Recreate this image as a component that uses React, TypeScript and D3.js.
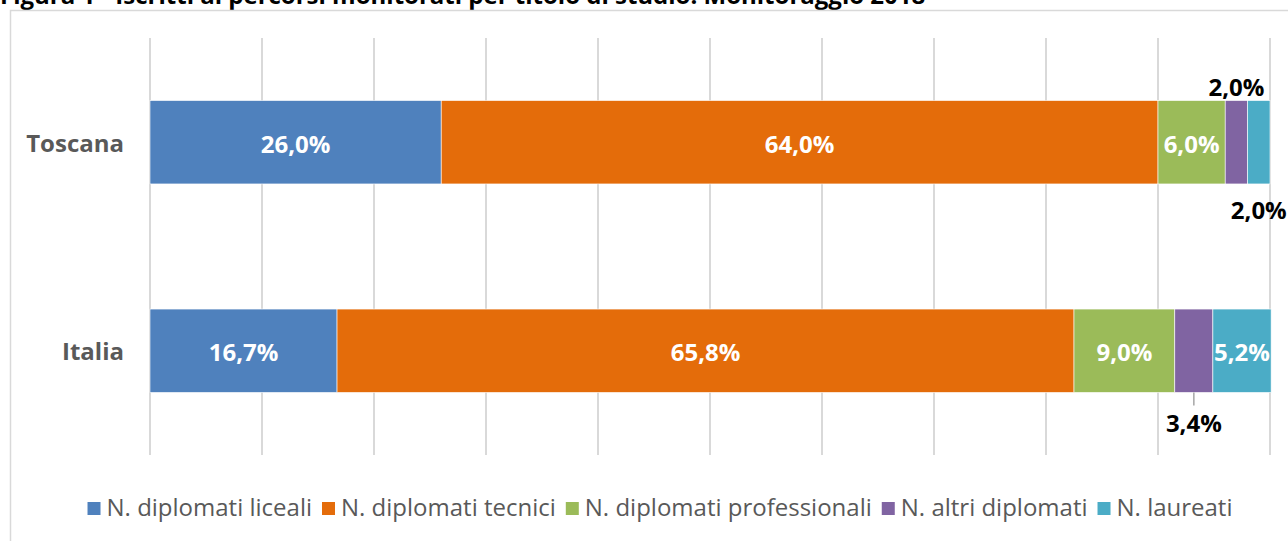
import React, { useEffect, useRef } from "react";
import * as d3 from "d3";

// data (percentages)
const categories = ["Toscana", "Italia"];
const seriesNames = [
  "N. diplomati liceali",
  "N. diplomati tecnici",
  "N. diplomati professionali",
  "N. altri diplomati",
  "N. laureati",
];
const liceali = [26.0, 16.7];
const tecnici = [64.0, 65.8];
const professionali = [6.0, 9.0];
const altri = [2.0, 3.4];
const laureati = [2.0, 5.2];
const xTicks = [0, 10, 20, 30, 40, 50, 60, 70, 80, 90, 100];

const colors = ["#4f81bd", "#e46c0a", "#9bbb59", "#8064a2", "#4bacc6"];
// where the data label sits for each category / series
const labelPos = [
  ["in", "in", "in", "above", "below"],
  ["in", "in", "in", "below", "in"],
];

const title =
  "Figura 1 - Iscritti ai percorsi monitorati per titolo di studio. Monitoraggio 2018";

const W = 1288;
const H = 541;
const FONT = "'Open Sans', sans-serif";

const App = () => {
  const ref = useRef<SVGSVGElement>(null);

  useEffect(() => {
    document.body.style.margin = "0";
    const svg = d3.select(ref.current);
    svg.selectAll("*").remove();

    const values = [liceali, tecnici, professionali, altri, laureati];
    const fmt = (v: number) => d3.format(".1f")(v).replace(".", ",") + "%";

    // title, cut off at the top like the original
    svg
      .append("text")
      .attr("x", 0)
      .attr("y", 4)
      .attr("font-family", FONT)
      .attr("font-weight", 700)
      .attr("font-size", 24)
      .attr("fill", "#000")
      .text(title);

    // chart frame
    svg
      .append("rect")
      .attr("x", 10.5)
      .attr("y", 10.5)
      .attr("width", 1300)
      .attr("height", 560)
      .attr("fill", "none")
      .attr("stroke", "#d9d9d9")
      .attr("stroke-width", 1.5);

    const x = d3.scaleLinear().domain([0, 100]).range([150, 1270]);
    const y = d3.scaleBand().domain(categories).range([38, 455]).padding(0);
    const barH = y.bandwidth() * 0.4;

    // vertical gridlines
    svg
      .append("g")
      .selectAll("line")
      .data(xTicks)
      .enter()
      .append("line")
      .attr("x1", (d) => x(d))
      .attr("x2", (d) => x(d))
      .attr("y1", 38)
      .attr("y2", 455)
      .attr("stroke", "#d9d9d9")
      .attr("stroke-width", 2);

    // category labels
    svg
      .append("g")
      .selectAll("text")
      .data(categories)
      .enter()
      .append("text")
      .attr("x", 124)
      .attr("y", (d) => y(d)! + y.bandwidth() / 2 + 9.5)
      .attr("text-anchor", "end")
      .attr("font-family", FONT)
      .attr("font-weight", 700)
      .attr("font-size", 24)
      .attr("fill", "#595959")
      .text((d) => d);

    // stacked segments
    categories.forEach((cat, ci) => {
      let acc = 0;
      const cy = y(cat)! + y.bandwidth() / 2;
      const top = cy - barH / 2;
      const bottom = cy + barH / 2;
      values.forEach((vals, si) => {
        const v = vals[ci];
        const x0 = x(acc);
        const x1 = x(acc + v);
        acc += v;
        svg
          .append("rect")
          .attr("x", x0)
          .attr("y", top)
          .attr("width", x1 - x0)
          .attr("height", barH)
          .attr("fill", colors[si])
          .attr("stroke", "#fff")
          .attr("stroke-width", 0.6);

        const pos = labelPos[ci][si];
        const mid = (x0 + x1) / 2;
        const label = svg
          .append("text")
          .attr("x", mid)
          .attr("text-anchor", "middle")
          .attr("font-family", FONT)
          .attr("font-weight", 700)
          .attr("font-size", 24)
          .text(fmt(v));
        if (pos === "in") {
          label.attr("y", cy + 10.5).attr("fill", "#fff");
        } else if (pos === "above") {
          label.attr("y", top - 5).attr("fill", "#000");
        } else {
          // below; with a short leader line when there is room
          label.attr("y", bottom + 35).attr("fill", "#000");
          if (ci === 1) {
            label.attr("y", bottom + 40);
            svg
              .append("line")
              .attr("x1", mid)
              .attr("x2", mid)
              .attr("y1", bottom)
              .attr("y2", bottom + 13)
              .attr("stroke", "#a6a6a6")
              .attr("stroke-width", 1.5);
          }
        }
      });
    });

    // legend, centred below the plot
    const legend = svg.append("g");
    const sq = 13;
    let lx = 0;
    seriesNames.forEach((name, i) => {
      const g = legend.append("g").attr("transform", `translate(${lx},0)`);
      g.append("rect")
        .attr("x", 0)
        .attr("y", 502)
        .attr("width", sq)
        .attr("height", sq)
        .attr("fill", colors[i]);
      const t = g
        .append("text")
        .attr("x", sq + 6)
        .attr("y", 516)
        .attr("font-family", FONT)
        .attr("font-size", 24)
        .attr("fill", "#595959")
        .text(name);
      const tw = (t.node() as SVGTextElement).getComputedTextLength();
      lx += sq + 6 + tw + 10;
    });
    const total = lx - 10;
    legend.attr("transform", `translate(${660 - total / 2},0)`);
  }, []);

  return <svg ref={ref} width={W} height={H} style={{ display: "block" }} />;
};

export default App;
